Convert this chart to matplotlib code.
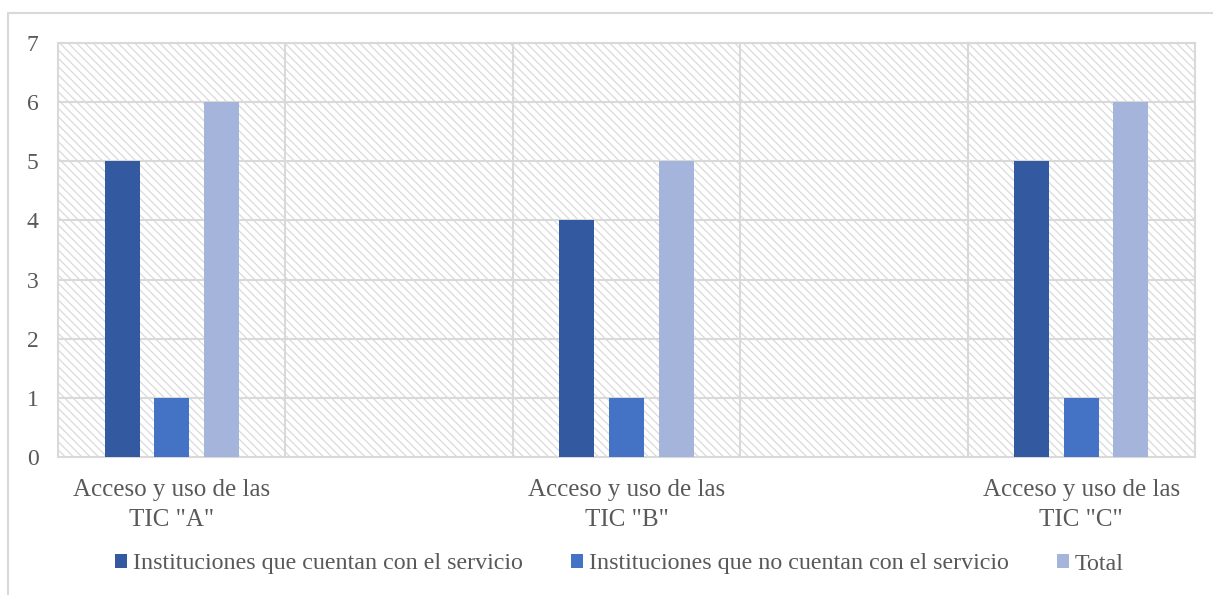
import matplotlib.pyplot as plt
import numpy as np
from matplotlib.patches import Rectangle

plt.rcParams['font.family'] = ['Liberation Serif', 'DejaVu Serif']
plt.rcParams['hatch.color'] = '#DADADA'
plt.rcParams['hatch.linewidth'] = 0.9

# Datos
categorias = ['Acceso y uso de las\nTIC "A"', '', 'Acceso y uso de las\nTIC "B"', '', 'Acceso y uso de las\nTIC "C"']
cuentan = [5, 0, 4, 0, 5]
no_cuentan = [1, 0, 1, 0, 1]
total = [6, 0, 5, 0, 6]
series = ['Instituciones que cuentan con el servicio',
          'Instituciones que no cuentan con el servicio',
          'Total']
colores = ['#335AA1', '#4472C4', '#A5B4DA']
gris_texto = '#595959'
gris_linea = '#D9D9D9'

fig = plt.figure(figsize=(12.13, 5.95), dpi=100)
ax = fig.add_axes([58 / 1213, 138 / 595, 1137 / 1213, 414 / 595])

# Fondo rayado del área de trazado
ax.add_patch(Rectangle((0, 0), 1, 1, transform=ax.transAxes, facecolor='white',
                       edgecolor='#DADADA', hatch='\\\\\\\\', linewidth=0, zorder=0))

x = np.arange(len(categorias))
ancho = 0.154
desp = 0.218
for i, (vals, col, nombre) in enumerate(zip([cuentan, no_cuentan, total], colores, series)):
    ax.bar(x + (i - 1) * desp, vals, width=ancho, color=col, label=nombre, zorder=3)

ax.set_xlim(-0.5, 4.5)
ax.set_ylim(0, 7)
ax.set_yticks(range(8))
ax.set_xticks(x)
ax.set_xticklabels(categorias, fontsize=18, color=gris_texto, linespacing=1.45)
ax.tick_params(axis='y', labelsize=17, labelcolor=gris_texto, length=0, pad=14)
ax.tick_params(axis='x', length=0, pad=16)

# Cuadrícula
for yv in range(1, 8):
    ax.axhline(yv, color=gris_linea, linewidth=1.5, zorder=1)
for xv in np.arange(0.5, 4.5, 1):
    ax.axvline(xv, color=gris_linea, linewidth=1.5, zorder=1)
for s in ax.spines.values():
    s.set_color(gris_linea)
    s.set_linewidth(1.5)
    s.set_zorder(2)

leg = fig.legend(loc='center', bbox_to_anchor=(619.5 / 1213, 1 - 564 / 595), ncol=3, frameon=False,
                 fontsize=17.3, handlelength=0.5, handleheight=0.5, handletextpad=0.25,
                 columnspacing=2.0, labelcolor=gris_texto)

# Marco exterior del gráfico
fig.add_artist(Rectangle((8 / 1213, -0.1), 1.2, (595 - 13) / 595 + 0.1,
                         transform=fig.transFigure, fill=False,
                         edgecolor=gris_linea, linewidth=1.5))

fig.savefig('out.png', dpi=100)
